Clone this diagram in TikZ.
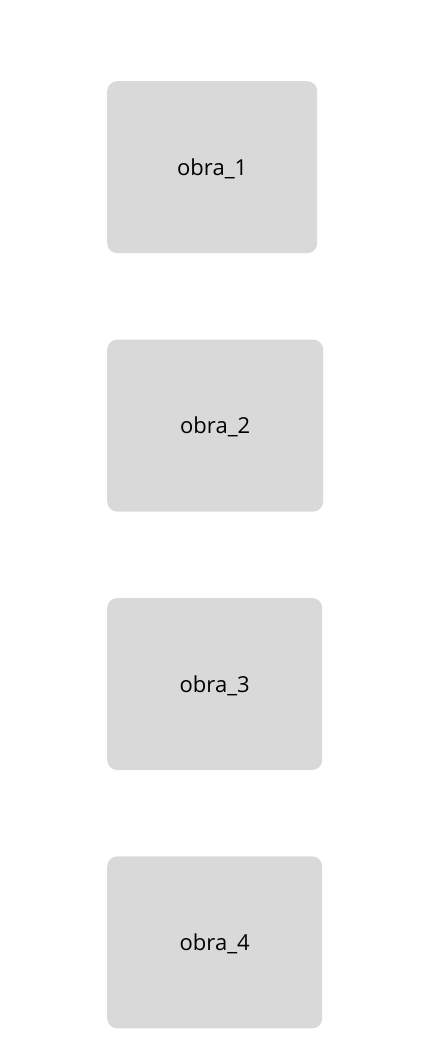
\documentclass[tikz,border=0pt]{standalone}
\usepackage{fontspec}
\setmainfont{Open Sans}
\usetikzlibrary{positioning}
\definecolor{boxgray}{HTML}{D9D9D9}
\begin{document}
\begin{tikzpicture}[x=1pt,y=1pt,obra/.style={minimum height=172pt, rounded corners=10pt, fill=boxgray, inner sep=0pt, text depth=0pt}]
\tikzset{every node/.style={font=\fontsize{22}{26}\selectfont}}
\useasboundingbox (0,0) rectangle (425,-1048);
\node[obra,minimum width=210pt,anchor=north west] (obra1) at (107,-81) {obra\_1};
\node[obra,minimum width=216pt,below=86pt of obra1.south west,anchor=north west] (obra2) {obra\_2};
\node[obra,minimum width=215pt,below=86pt of obra2.south west,anchor=north west] (obra3) {obra\_3};
\node[obra,minimum width=215pt,below=86pt of obra3.south west,anchor=north west] (obra4) {obra\_4};
\end{tikzpicture}
\end{document}
